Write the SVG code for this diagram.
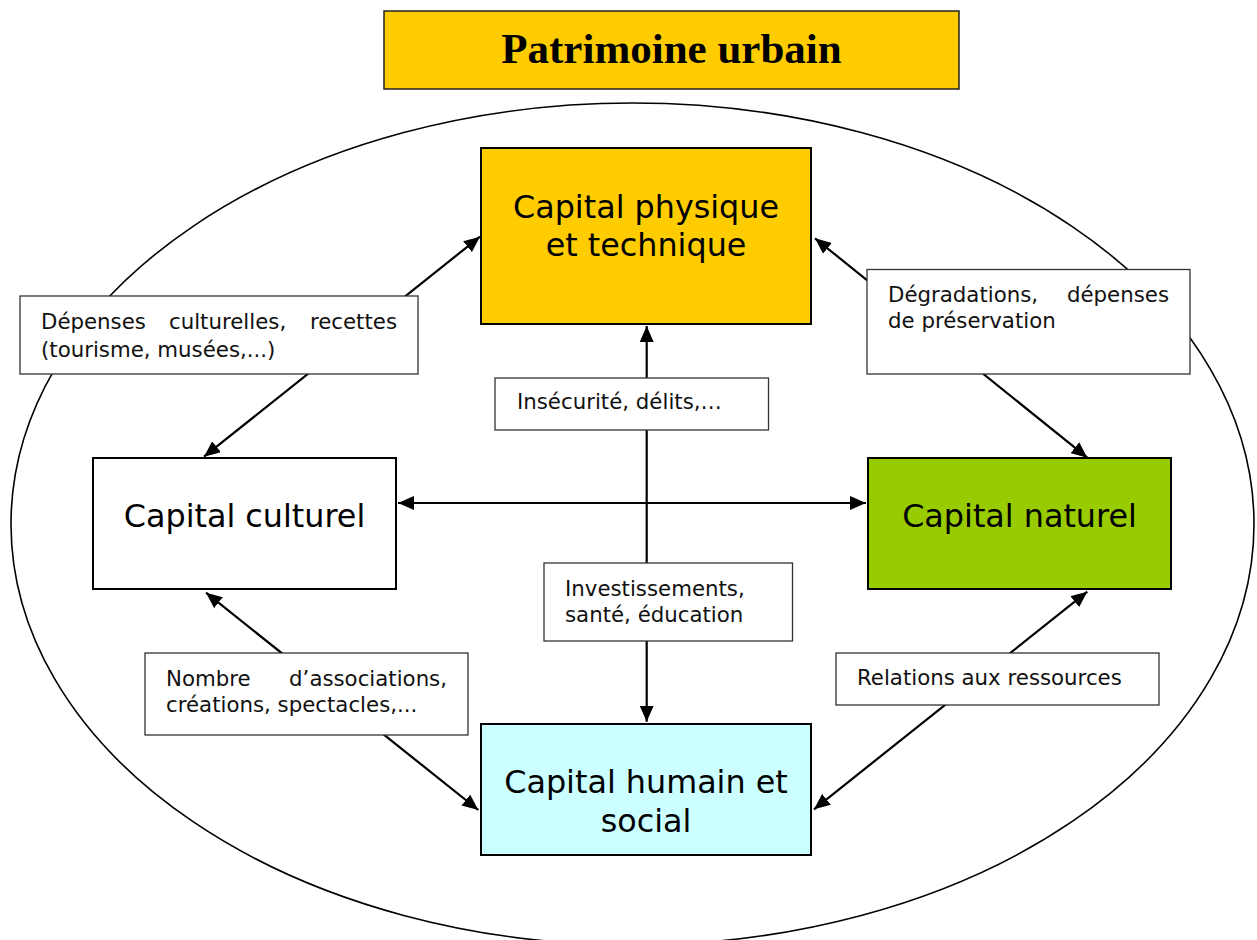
<svg xmlns="http://www.w3.org/2000/svg" width="1257" height="940" viewBox="0 0 1257 940">
<style>
.node{stroke:#000;stroke-width:2}
.lbl{fill:#fff;stroke:#333;stroke-width:1.3}
.nt{font-family:"DejaVu Sans",Verdana,sans-serif;font-size:31.8px;fill:#000;text-anchor:middle}
.lt{font-family:"DejaVu Sans",Verdana,sans-serif;font-size:21.3px;fill:#111}
.conn{stroke:#000;stroke-width:2.2;fill:none;marker-start:url(#ah);marker-end:url(#ah)}
</style>
<defs>
<marker id="ah" viewBox="0 0 16 14" refX="16" refY="7" markerWidth="16" markerHeight="14" markerUnits="userSpaceOnUse" orient="auto-start-reverse">
<path d="M0,0 L16,7 L0,14 z" fill="#000"/>
</marker>
</defs>
<rect width="1257" height="940" fill="#fff"/>
<ellipse cx="632.5" cy="524" rx="621.5" ry="421" fill="none" stroke="#000" stroke-width="1.6"/>

<g id="title">
<rect x="384" y="11" width="575" height="78" fill="#FFCC00" stroke="#222" stroke-width="1.5"/>
<text x="671.5" y="63" font-family="'Liberation Serif','Times New Roman',serif" font-weight="bold" font-size="43" text-anchor="middle" fill="#000">Patrimoine urbain</text>
</g>

<g id="connectors">
<line class="conn" x1="204" y1="456.7" x2="480" y2="236.7"/>
<line class="conn" x1="815" y1="238.3" x2="1087.3" y2="457.7"/>
<line class="conn" x1="206" y1="592.7" x2="478.3" y2="810"/>
<line class="conn" x1="1087.3" y1="591.7" x2="814" y2="809.3"/>
<line class="conn" x1="646.7" y1="326" x2="646.7" y2="721.7"/>
<line class="conn" x1="398" y1="503" x2="866" y2="503"/>
</g>

<g id="label-depenses">
<rect class="lbl" x="20" y="296" width="398" height="78"/>
<text class="lt" y="329"><tspan x="41">Dépenses</tspan><tspan x="169">culturelles,</tspan><tspan x="397" text-anchor="end">recettes</tspan></text>
<text class="lt" x="41" y="356.5">(tourisme, musées,...)</text>
</g>

<g id="label-degradations">
<rect class="lbl" x="867" y="269.5" width="323" height="104.5"/>
<text class="lt" y="301.5"><tspan x="888">Dégradations,</tspan><tspan x="1169" text-anchor="end">dépenses</tspan></text>
<text class="lt" x="888" y="328">de préservation</text>
</g>

<g id="label-insecurite">
<rect class="lbl" x="495" y="378" width="273.5" height="52"/>
<text class="lt" x="517" y="409">Insécurité, délits,…</text>
</g>

<g id="label-investissements">
<rect class="lbl" x="544" y="563" width="248.5" height="78"/>
<text class="lt" x="565" y="596">Investissements,</text>
<text class="lt" x="565" y="621.5">santé, éducation</text>
</g>

<g id="label-nombre">
<rect class="lbl" x="145" y="653" width="323" height="82"/>
<text class="lt" y="686"><tspan x="166">Nombre</tspan><tspan x="447" text-anchor="end">d’associations,</tspan></text>
<text class="lt" x="166" y="712">créations, spectacles,...</text>
</g>

<g id="label-relations">
<rect class="lbl" x="836" y="653" width="323" height="52"/>
<text class="lt" x="857" y="685">Relations aux ressources</text>
</g>

<g id="node-physique">
<rect class="node" x="481" y="148" width="330" height="176" fill="#FFCC00"/>
<text class="nt" x="646" y="218">Capital physique</text>
<text class="nt" x="646" y="256">et technique</text>
</g>

<g id="node-culturel">
<rect class="node" x="93" y="458" width="303" height="131" fill="#fff"/>
<text class="nt" x="244.5" y="527">Capital culturel</text>
</g>

<g id="node-naturel">
<rect class="node" x="868" y="458" width="303" height="131" fill="#99CC00"/>
<text class="nt" x="1019.5" y="527">Capital naturel</text>
</g>

<g id="node-humain">
<rect class="node" x="481" y="724" width="330" height="131" fill="#CCFFFF"/>
<text class="nt" x="646" y="793">Capital humain et</text>
<text class="nt" x="646" y="832">social</text>
</g>
</svg>
